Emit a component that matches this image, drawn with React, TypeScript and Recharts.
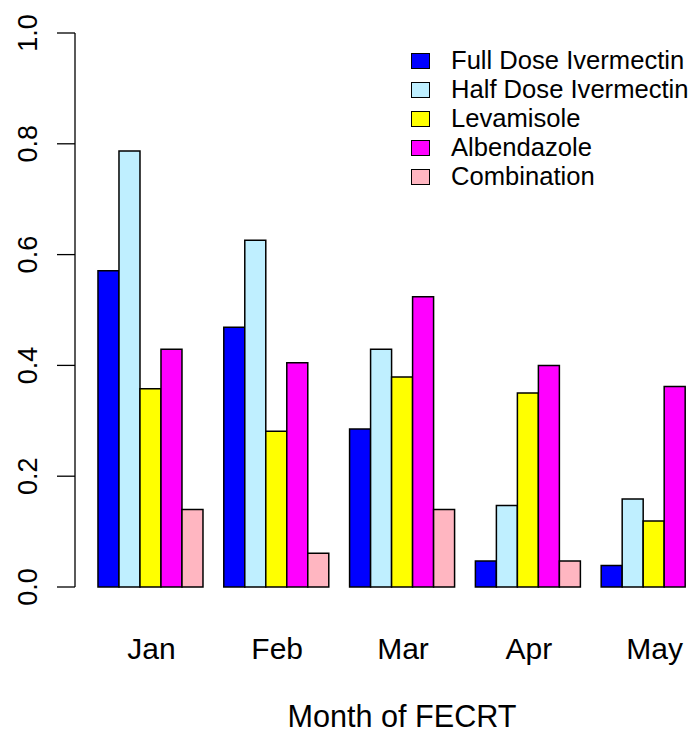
import { BarChart, Bar, XAxis, YAxis, Legend } from "recharts";

const months = ["Jan", "Feb", "Mar", "Apr", "May"];
const fullDose = [0.571, 0.469, 0.285, 0.047, 0.039];
const halfDose = [0.787, 0.626, 0.429, 0.147, 0.159];
const levamisole = [0.358, 0.281, 0.379, 0.35, 0.119];
const albendazole = [0.429, 0.405, 0.524, 0.4, 0.362];
const combination = [0.14, 0.061, 0.14, 0.047, 0];
const yTicks = [0, 0.2, 0.4, 0.6, 0.8, 1];

const series = [
  { key: "full", name: "Full Dose Ivermectin", color: "#0000FF" },
  { key: "half", name: "Half Dose Ivermectin", color: "#BFEFFF" },
  { key: "lev", name: "Levamisole", color: "#FFFF00" },
  { key: "alb", name: "Albendazole", color: "#FF00FF" },
  { key: "comb", name: "Combination", color: "#FFB6C1" },
];

const data = months.map((m, i) => ({
  month: m,
  full: fullDose[i],
  half: halfDose[i],
  lev: levamisole[i],
  alb: albendazole[i],
  comb: combination[i],
}));

const FONT = "'Liberation Sans', Arial, Helvetica, sans-serif";

const YTick = ({ y, payload }: any) => (
  <text
    x={37}
    y={y}
    transform={`rotate(-90, 37, ${y})`}
    textAnchor="middle"
    fontFamily={FONT}
    fontSize={27}
    fill="#000"
  >
    {Number(payload.value).toFixed(1)}
  </text>
);

const XTick = ({ x, payload }: any) => (
  <text x={x + 1} y={659} textAnchor="middle" fontFamily={FONT} fontSize={30} fill="#000">
    {payload.value}
  </text>
);

const LegendBox = () => (
  <div style={{ fontFamily: FONT, fontSize: 25.6, color: "#000" }}>
    {series.map((s) => (
      <div key={s.key} style={{ display: "flex", alignItems: "center", height: 29, whiteSpace: "nowrap" }}>
        <span
          style={{
            display: "inline-block",
            width: 17,
            height: 14,
            background: s.color,
            border: "1.5px solid #000",
            marginRight: 21,
          }}
        />
        <span style={{ lineHeight: "29px" }}>{s.name}</span>
      </div>
    ))}
  </div>
);

export default function App() {
  return (
    <div
      style={{
        position: "absolute",
        left: 0,
        top: 0,
        width: 697,
        height: 732,
        overflow: "hidden",
        background: "#fff",
      }}
    >
      <BarChart
        width={760}
        height={732}
        data={data}
        margin={{ top: 33, right: 31, bottom: 0, left: 0 }}
        barCategoryGap="8.333%"
        barGap={0}
      >
        <YAxis
          domain={[0, 1]}
          ticks={yTicks}
          width={75}
          tickSize={18}
          axisLine={{ stroke: "#000", strokeWidth: 1.3 }}
          tickLine={{ stroke: "#000", strokeWidth: 1.3 }}
          tick={<YTick />}
        />
        <XAxis
          dataKey="month"
          height={145}
          axisLine={false}
          tickLine={false}
          padding={{ left: 12.5, right: 12.5 }}
          tick={<XTick />}
          label={{
            value: "Month of FECRT",
            position: "insideBottom",
            offset: 5,
            fontFamily: FONT,
            fontSize: 30.6,
            fill: "#000",
          }}
        />
        <Legend
          layout="vertical"
          align="center"
          verticalAlign="middle"
          content={<LegendBox />}
          wrapperStyle={{ left: 411, top: 46, width: 290, height: 150 }}
        />
        {series.map((s) => (
          <Bar
            key={s.key}
            dataKey={s.key}
            name={s.name}
            fill={s.color}
            stroke="#000"
            strokeWidth={1.5}
            isAnimationActive={false}
          />
        ))}
      </BarChart>
    </div>
  );
}
